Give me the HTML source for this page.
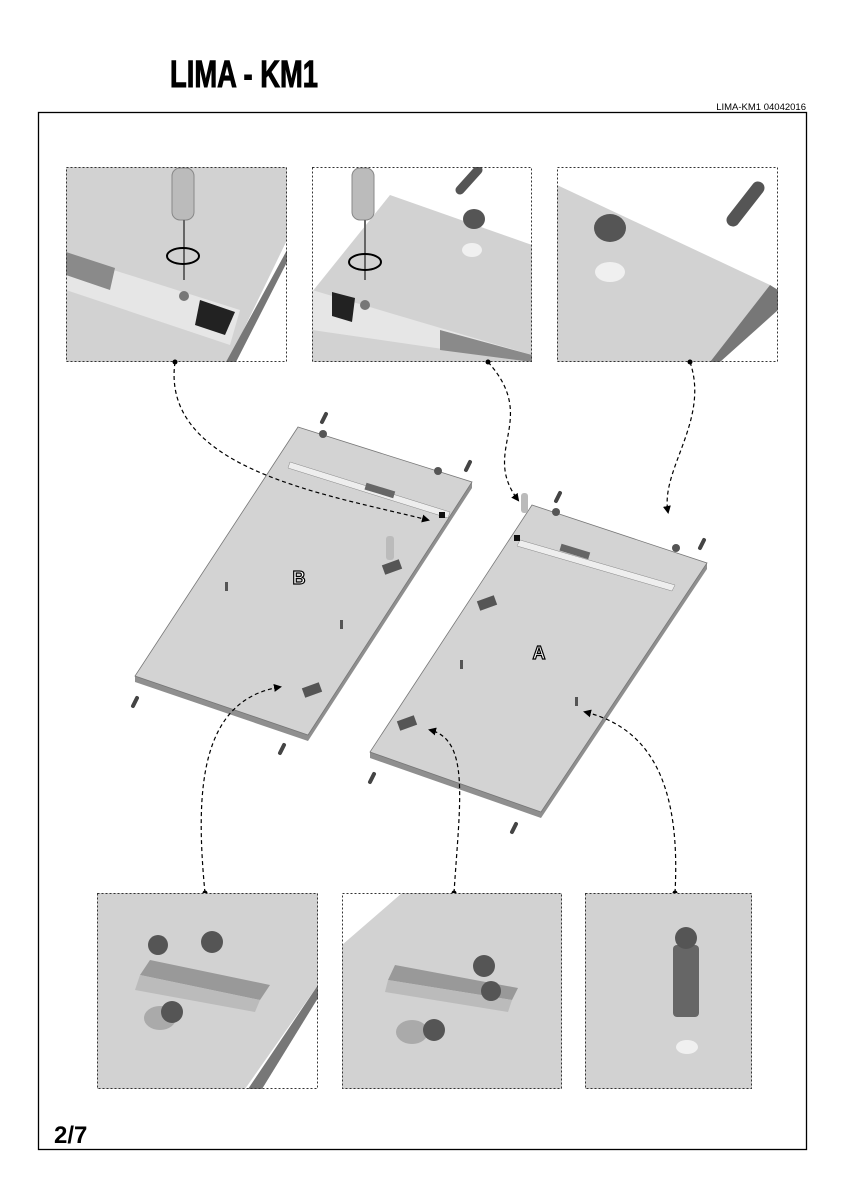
<!DOCTYPE html>
<html><head><meta charset="utf-8"><style>
html,body{margin:0;padding:0;background:#fff;}
body{width:849px;height:1200px;position:relative;overflow:hidden;font-family:"Liberation Sans",sans-serif;}
</style></head><body>
<svg width="849" height="1200" viewBox="0 0 849 1200" xmlns="http://www.w3.org/2000/svg" style="position:absolute;left:0;top:0">
<defs>
<marker id="ar" markerWidth="8" markerHeight="8" refX="6" refY="4" orient="auto" markerUnits="userSpaceOnUse"><path d="M0,0 L8,4 L0,8 z" fill="#000"/></marker>
<clipPath id="c1"><rect x="66" y="167" width="221" height="195"/></clipPath>
<clipPath id="c2"><rect x="312" y="167" width="220" height="195"/></clipPath>
<clipPath id="c3"><rect x="557" y="167" width="221" height="195"/></clipPath>
<clipPath id="c4"><rect x="97" y="893" width="221" height="196"/></clipPath>
<clipPath id="c5"><rect x="342" y="893" width="220" height="196"/></clipPath>
</defs>
<text x="170" y="87" font-family="Liberation Sans Narrow, Liberation Sans, sans-serif" font-weight="bold" font-size="38" textLength="148" lengthAdjust="spacingAndGlyphs" stroke="#000" stroke-width="1">LIMA - KM1</text>
<text x="806" y="110" font-size="9.5" text-anchor="end">LIMA-KM1 04042016</text>
<rect x="38.5" y="112.5" width="768" height="1037" fill="none" stroke="#000" stroke-width="1.3"/>
<text x="54" y="1143" font-weight="bold" font-size="24">2/7</text>

<!-- Top panel 1 -->
<g clip-path="url(#c1)">
<rect x="66" y="167" width="221" height="195" fill="#d2d2d2"/>
<polygon points="287,240 287,362 228,362" fill="#fff"/>
<polygon points="287,250 287,262 236,362 226,362" fill="#777"/>
<polygon points="66,255 240,310 230,345 66,290" fill="#e6e6e6"/>
<polygon points="66,252 115,268 110,290 66,275" fill="#8a8a8a"/>
<polygon points="200,300 235,312 225,335 195,325" fill="#222"/>
<rect x="172" y="168" width="22" height="52" rx="8" fill="#bbb" stroke="#888"/>
<rect x="183" y="220" width="2" height="60" fill="#666"/>
<ellipse cx="183" cy="256" rx="16" ry="8" fill="none" stroke="#000" stroke-width="2"/>
<circle cx="184" cy="296" r="5" fill="#777"/>
</g>
<rect x="66.5" y="167.5" width="220" height="194" fill="none" stroke="#333" stroke-dasharray="2,2"/>

<!-- Top panel 2 -->
<g clip-path="url(#c2)">
<rect x="312" y="167" width="220" height="195" fill="#fff"/>
<polygon points="390,195 532,245 532,362 312,362 312,292" fill="#d2d2d2"/>
<polygon points="312,290 532,355 532,362 312,330" fill="#e6e6e6"/>
<polygon points="440,330 532,355 532,362 440,350" fill="#8a8a8a"/>
<polygon points="332,292 355,298 352,322 332,316" fill="#222"/>
<rect x="352" y="168" width="22" height="52" rx="8" fill="#bbb" stroke="#888"/>
<rect x="364" y="220" width="2" height="60" fill="#666"/>
<ellipse cx="365" cy="262" rx="16" ry="8" fill="none" stroke="#000" stroke-width="2"/>
<circle cx="365" cy="305" r="5" fill="#777"/>
<line x1="460" y1="190" x2="478" y2="170" stroke="#555" stroke-width="9" stroke-linecap="round"/>
<ellipse cx="474" cy="219" rx="11" ry="10" fill="#555"/>
<ellipse cx="472" cy="250" rx="10" ry="7" fill="#f0f0f0"/>
</g>
<rect x="312.5" y="167.5" width="219" height="194" fill="none" stroke="#333" stroke-dasharray="2,2"/>

<!-- Top panel 3 -->
<g clip-path="url(#c3)">
<rect x="557" y="167" width="221" height="195" fill="#fff"/>
<polygon points="557,185 770,285 710,362 557,362" fill="#d2d2d2"/>
<polygon points="770,285 778,290 778,310 720,362 710,362" fill="#777"/>
<line x1="733" y1="220" x2="758" y2="188" stroke="#555" stroke-width="13" stroke-linecap="round"/>
<ellipse cx="610" cy="228" rx="16" ry="14" fill="#555"/>
<ellipse cx="610" cy="272" rx="15" ry="10" fill="#f0f0f0"/>
</g>
<rect x="557.5" y="167.5" width="220" height="194" fill="none" stroke="#333" stroke-dasharray="2,2"/>

<!-- Board B -->
<polygon points="298,427 472,482 472,488 308,741 135,682 135,676" fill="#8f8f8f"/>
<polygon points="298,427 472,482 308,735 135,676" fill="#d3d3d3" stroke="#777" stroke-width="0.8"/>
<polygon points="290,462 450,512 448,518 288,468" fill="#eee" stroke="#888" stroke-width="0.5"/>
<rect x="365" y="487" width="30" height="7" fill="#666" transform="rotate(17 380 490)"/>
<text x="299" y="584" font-size="18" font-weight="bold" text-anchor="middle" fill="#fff" stroke="#000" stroke-width="1.2">B</text>
<!-- Board A -->
<polygon points="532,505 707,563 707,569 541,818 370,758 370,752" fill="#8f8f8f"/>
<polygon points="532,505 707,563 541,812 370,752" fill="#d3d3d3" stroke="#777" stroke-width="0.8"/>
<polygon points="520,540 675,585 672,591 517,546" fill="#eee" stroke="#888" stroke-width="0.5"/>
<rect x="560" y="548" width="30" height="7" fill="#666" transform="rotate(17 575 551)"/>
<text x="539" y="659" font-size="18" font-weight="bold" text-anchor="middle" fill="#fff" stroke="#000" stroke-width="1.2">A</text>
<!-- small parts -->
<g stroke="#444" stroke-width="4" stroke-linecap="round">
<line x1="322" y1="422" x2="326" y2="414"/><line x1="466" y1="470" x2="470" y2="462"/>
<line x1="133" y1="706" x2="137" y2="698"/><line x1="280" y1="753" x2="284" y2="745"/>
<line x1="556" y1="501" x2="560" y2="493"/><line x1="700" y1="548" x2="704" y2="540"/>
<line x1="370" y1="782" x2="374" y2="774"/><line x1="512" y1="832" x2="516" y2="824"/>
</g>
<g fill="#555"><circle cx="323" cy="434" r="4"/><circle cx="438" cy="471" r="4"/><circle cx="556" cy="512" r="4"/><circle cx="676" cy="548" r="4"/>
<rect x="225" y="582" width="3" height="9"/><rect x="340" y="620" width="3" height="9"/><rect x="460" y="660" width="3" height="9"/><rect x="575" y="697" width="3" height="9"/>
<rect x="303" y="685" width="18" height="10" transform="rotate(-20 312 690)"/><rect x="478" y="598" width="18" height="10" transform="rotate(-20 487 603)"/><rect x="398" y="718" width="18" height="10" transform="rotate(-20 407 723)"/><rect x="383" y="562" width="18" height="10" transform="rotate(-20 392 567)"/>
<rect x="439" y="512" width="6" height="6" fill="#111"/><rect x="514" y="535" width="6" height="6" fill="#111"/></g>
<rect x="386" y="536" width="8" height="24" rx="3" fill="#bbb"/>
<rect x="521" y="493" width="7" height="20" rx="3" fill="#bbb"/>

<!-- connectors -->
<g fill="none" stroke="#000" stroke-width="1.2" stroke-dasharray="4,3">
<path d="M175,362 C160,470 330,495 428,520" marker-end="url(#ar)"/>
<path d="M488,362 C540,420 480,450 518,500" marker-end="url(#ar)"/>
<path d="M690,362 C710,420 660,470 668,512" marker-end="url(#ar)"/>
<path d="M205,893 C195,790 200,700 280,687" marker-end="url(#ar)"/>
<path d="M454,893 C460,800 470,740 430,730" marker-end="url(#ar)"/>
<path d="M675,893 C680,800 660,730 585,712" marker-end="url(#ar)"/>
</g>
<g fill="#000"><circle cx="175" cy="362" r="2.5"/><circle cx="488" cy="362" r="2.5"/><circle cx="690" cy="362" r="2.5"/><circle cx="205" cy="893" r="2.5"/><circle cx="454" cy="893" r="2.5"/><circle cx="675" cy="893" r="2.5"/></g>

<!-- bottom panels -->
<g clip-path="url(#c4)">
<rect x="97" y="893" width="221" height="196" fill="#d2d2d2"/>
<polygon points="318,985 318,1089 245,1089" fill="#fff"/>
<polygon points="318,985 318,998 262,1089 248,1089" fill="#777"/>
<polygon points="140,975 260,1000 270,985 150,960" fill="#999"/>
<polygon points="140,975 260,1000 255,1012 135,990" fill="#bbb"/>
<ellipse cx="160" cy="1018" rx="16" ry="12" fill="#aaa"/>
<circle cx="158" cy="945" r="10" fill="#555"/><circle cx="212" cy="942" r="11" fill="#555"/><circle cx="172" cy="1012" r="11" fill="#555"/>
</g>
<rect x="97.5" y="893.5" width="220" height="195" fill="none" stroke="#333" stroke-dasharray="2,2"/>
<g clip-path="url(#c5)">
<rect x="342" y="893" width="220" height="196" fill="#d2d2d2"/>
<polygon points="342,893 402,893 342,945" fill="#fff"/>
<polygon points="388,980 512,1000 518,988 395,965" fill="#999"/>
<polygon points="388,980 512,1000 508,1012 385,992" fill="#bbb"/>
<ellipse cx="412" cy="1032" rx="16" ry="12" fill="#aaa"/>
<circle cx="484" cy="966" r="11" fill="#555"/><circle cx="491" cy="991" r="10" fill="#555"/><circle cx="434" cy="1030" r="11" fill="#555"/>
</g>
<rect x="342.5" y="893.5" width="219" height="195" fill="none" stroke="#333" stroke-dasharray="2,2"/>
<rect x="585" y="893" width="167" height="196" fill="#d2d2d2"/>
<rect x="673" y="945" width="26" height="72" rx="4" fill="#666"/>
<circle cx="686" cy="938" r="11" fill="#555"/>
<ellipse cx="687" cy="1047" rx="11" ry="7" fill="#f0f0f0"/>
<rect x="585.5" y="893.5" width="166" height="195" fill="none" stroke="#333" stroke-dasharray="2,2"/>
</svg>
</body></html>
